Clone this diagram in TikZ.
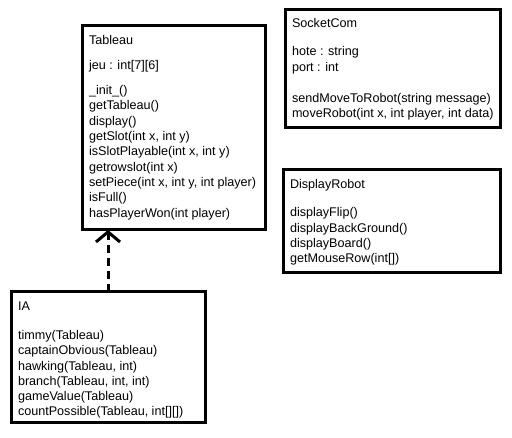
\documentclass[tikz,border=0pt]{standalone}
\usepackage{fontspec}
\setmainfont{Liberation Sans}
\usetikzlibrary{positioning,arrows.meta}

\begin{document}
\begin{tikzpicture}[x=1pt, y=-1pt]
    \tikzstyle{every node}=[font=\fontsize{12.6}{15.3}\selectfont, inner sep=0pt, outer sep=0pt]
    \tikzset{
        cls/.style={draw, line width=3pt, anchor=north west},
        txt/.style={align=left, anchor=north west},
        dep/.style={line width=3pt, dash pattern=on 8pt off 5pt, -{Straight Barb[length=10pt, width=24pt, line width=3pt]}}
        }

    \useasboundingbox [fill=white] (0,0) rectangle (512,438);

    %tableau
    \node (tableau) [cls, minimum width=183pt, minimum height=204pt] at (82,26) {};
    \node (tableautxt) [txt, below right=9.5pt and 7pt of tableau.north west] {Tableau\\[9.7pt]
        jeu : int[7][6]\\[9.7pt]
        \_init\_()\\ getTableau()\\ display()\\ getSlot(int x, int y)\\ isSlotPlayable(int x, int y)\\
        getrowslot(int x)\\ setPiece(int x, int y, int player)\\ isFull()\\ hasPlayerWon(int player)};

    %socket
    \node (socket) [cls, minimum width=215pt, minimum height=118pt] at (285,10) {};
    \node (sockettxt) [txt, below right=8.5pt and 7pt of socket.north west] {SocketCom\\[13pt]
        hote : string\\ port : int\\[15.5pt]
        sendMoveToRobot(string message)\\ moveRobot(int x, int player, int data)};

    %display
    \node (display) [cls, minimum width=217pt, minimum height=103pt] at (283,170) {};
    \node (displaytxt) [txt, below right=9.5pt and 7pt of display.north west] {DisplayRobot\\[13pt]
        displayFlip()\\ displayBackGround()\\ displayBoard()\\ getMouseRow(int[])};

    %ia
    \node (ia) [cls, minimum width=194pt, minimum height=131pt] at (11,292) {};
    \node (iatxt) [txt, below right=9.5pt and 7pt of ia.north west] {IA\\[14pt]
        timmy(Tableau)\\ captainObvious(Tableau)\\ hawking(Tableau, int)\\ branch(Tableau, int, int)\\
        gameValue(Tableau)\\ countPossible(Tableau, int[][])};

    %dependency
    \draw [dep] (ia.north) -- (ia.north |- tableau.south);
\end{tikzpicture}
\end{document}
